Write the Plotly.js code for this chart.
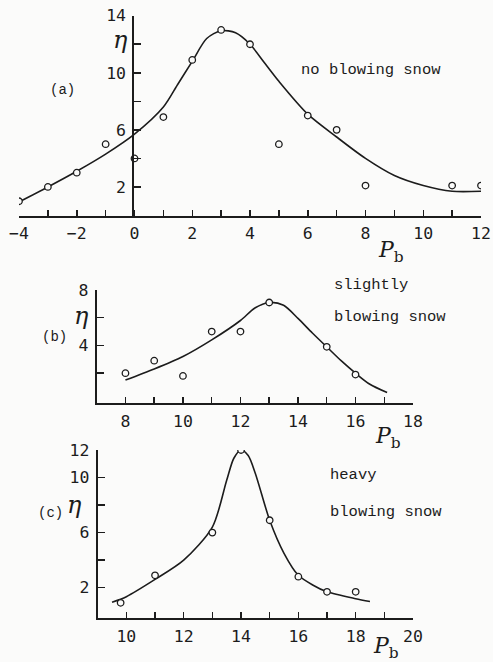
<!DOCTYPE html>
<html>
<head>
<meta charset="utf-8">
<script src="https://cdn.plot.ly/plotly-3.0.1.min.js"></script>
<style>html,body{margin:0;padding:0;background:#fbfbfa;}#chart{width:493px;height:662px;}</style>
</head>
<body>
<div id="chart"></div>
<script>
// Panel (a): no blowing snow
const pbA = [-4,-3,-2,-1,0,1,2,3,4,5,6,7,8,11,12];
const nA  = [1.0,2.0,3.0,5.0,4.0,6.9,10.9,13.0,12.0,5.0,7.0,6.0,2.1,2.1,2.1];
const curvePbA = [-4,-3,-2,-1,0,1,1.5,2,2.5,3,3.5,4,4.5,5,6,7,8,9,10,11,12];
const curveNA  = [0.95,2.0,3.1,4.3,5.7,7.6,9.2,10.8,12.4,12.95,12.8,12.0,10.7,9.4,7.1,5.5,4.0,2.8,2.1,1.7,1.7];

// Panel (b): slightly blowing snow
const pbB = [8,9,10,11,12,13,15,16];
const nB  = [2.0,2.9,1.8,5.0,5.0,7.1,3.9,1.9];
const curvePbB = [8,9,10,11,12,12.5,13,13.5,14,14.5,15,15.5,16,16.5,17.1];
const curveNB  = [1.5,2.3,3.2,4.4,5.8,6.7,7.1,6.9,5.95,4.9,3.9,2.9,2.0,1.2,0.6];

// Panel (c): heavy blowing snow
const pbC = [9.8,11,13,14,15,16,17,18];
const nC  = [0.9,2.9,6.0,12.0,6.9,2.8,1.7,1.7];
const curvePbC = [9.5,10,11,12,13,13.5,13.75,14,14.25,14.5,15,15.5,16,16.5,17,18,18.5];
const curveNC  = [0.95,1.35,2.6,4.0,6.4,9.8,11.4,12.0,11.6,10.3,6.9,4.5,2.9,2.2,1.7,1.2,1.0];

// Tick labels (major, labelled) and unlabelled minor ticks
const xTicksA = [-4,-2,0,2,4,6,8,10,12];
const xTextA  = ['−4','−2','0','2','4','6','8','10','12'];
const xMinorA = [-3,-1,1,3,5,7,9,11];
const yTicksA = [2,6,10,14];
const yTextA  = ['2','6','10','14'];
const yMinorA = [4,8,12];
const xTicksB = [8,10,12,14,16,18];
const xTextB  = ['8','10','12','14','16','18'];
const xMinorB = [9,11,13,15,17];
const yTicksB = [4,8];
const yTextB  = ['4','8'];
const yMinorB = [2,6];
const xTicksC = [10,12,14,16,18,20];
const xTextC  = ['10','12','14','16','18','20'];
const xMinorC = [11,13,15,17,19];
const yTicksC = [2,6,10,12];
const yTextC  = ['2','6','10','12'];
const yMinorC = [4,8];

const W = 493, H = 662;
const INK = '#1c1c1c';
const BG = '#fbfbfa';
const px = v => v / W;
const py = v => 1 - v / H;

function curve(x, y, xa, ya) {
  return {x: x, y: y, xaxis: xa, yaxis: ya, mode: 'lines', type: 'scatter',
    line: {color: INK, width: 1.6, shape: 'spline', smoothing: 0.8}, hoverinfo: 'skip', showlegend: false};
}
function pts(x, y, xa, ya) {
  return {x: x, y: y, xaxis: xa, yaxis: ya, mode: 'markers', type: 'scatter',
    marker: {symbol: 'circle', size: 6.5, color: BG, line: {color: INK, width: 1.3}}, showlegend: false};
}

const tickFont = {family: 'DejaVu Sans Mono', size: 16.5, color: INK};
function minorOf(vals, len) {
  return {tickmode: 'array', tickvals: vals, ticks: 'inside', ticklen: len, tickwidth: 1.5, tickcolor: INK, showgrid: false};
}
function xax(range, dom, vals, text, minor, anchor) {
  return {range: range, domain: dom, anchor: anchor, showline: true, linecolor: INK, linewidth: 2,
    tickmode: 'array', ticks: 'inside', ticklen: 6, tickwidth: 1.5, tickcolor: INK, tickvals: vals, ticktext: text,
    minor: minorOf(minor, 6),
    tickfont: tickFont, ticklabelstandoff: 2, showgrid: false, zeroline: false};
}
function yax(range, dom, vals, text, minor, anchor, pos) {
  const a = {range: range, domain: dom, showline: true, linecolor: INK, linewidth: 2,
    tickmode: 'array', ticks: 'inside', ticklen: 7, tickwidth: 1.5, tickcolor: INK, tickvals: vals, ticktext: text,
    minor: minorOf(minor, 7),
    tickfont: tickFont, ticklabelstandoff: 3, showgrid: false, zeroline: false};
  if (pos !== undefined) { a.anchor = 'free'; a.position = pos; } else { a.anchor = anchor; }
  return a;
}

const annFont = {family: 'Liberation Mono', size: 15.5, color: INK};
const tagFont = {family: 'Liberation Mono', size: 14, color: INK};
const etaFont = {family: 'DejaVu Serif', size: 24, color: INK};
const pFont = {family: 'DejaVu Serif', size: 22, color: INK};
function ann(text, x, y, font, xanchor) {
  return {text: text, x: px(x), y: py(y), xref: 'paper', yref: 'paper', showarrow: false,
    xanchor: xanchor || 'center', yanchor: 'middle', font: font};
}

const data = [
  curve(curvePbA, curveNA, 'x', 'y'), pts(pbA, nA, 'x', 'y'),
  curve(curvePbB, curveNB, 'x2', 'y2'), pts(pbB, nB, 'x2', 'y2'),
  curve(curvePbC, curveNC, 'x3', 'y3'), pts(pbC, nC, 'x3', 'y3')
];

const layout = {
  width: W, height: H, margin: {l: 0, r: 0, t: 0, b: 0},
  paper_bgcolor: BG, plot_bgcolor: 'rgba(0,0,0,0)',
  xaxis: xax([-4, 12], [px(19), px(481)], xTicksA, xTextA, xMinorA, 'y'),
  yaxis: yax([0, 14], [py(215.5), py(15.7)], yTicksA, yTextA, yMinorA, null, px(133.3)),
  xaxis2: xax([7, 18], [px(96.7), px(413)], xTicksB, xTextB, xMinorB, 'y2'),
  yaxis2: yax([-0.15, 8], [py(403), py(290)], yTicksB, yTextB, yMinorB, 'x2'),
  xaxis3: xax([9, 20], [px(97.7), px(413)], xTicksC, xTextC, xMinorC, 'y3'),
  yaxis3: yax([-0.2, 12], [py(618), py(450)], yTicksC, yTextC, yMinorC, 'x3'),
  annotations: [
    ann('(a)', 62, 90, tagFont),
    ann('no blowing snow', 371, 70, annFont),
    ann('<i>η</i>', 120, 40, etaFont),
    ann('<i>P</i><sub>b</sub>', 391, 251, pFont),
    ann('(b)', 54, 337, tagFont),
    ann('slightly', 332, 285, annFont, 'left'),
    ann('blowing snow', 332, 317, annFont, 'left'),
    ann('<i>η</i>', 81, 316, etaFont),
    ann('<i>P</i><sub>b</sub>', 388, 437, pFont),
    ann('(c)', 50, 513, tagFont),
    ann('heavy', 328, 475, annFont, 'left'),
    ann('blowing snow', 328, 512, annFont, 'left'),
    ann('<i>η</i>', 74, 505, etaFont),
    ann('<i>P</i><sub>b</sub>', 386, 647, pFont)
  ]
};

Plotly.newPlot('chart', data, layout, {staticPlot: true});
</script>
</body>
</html>
